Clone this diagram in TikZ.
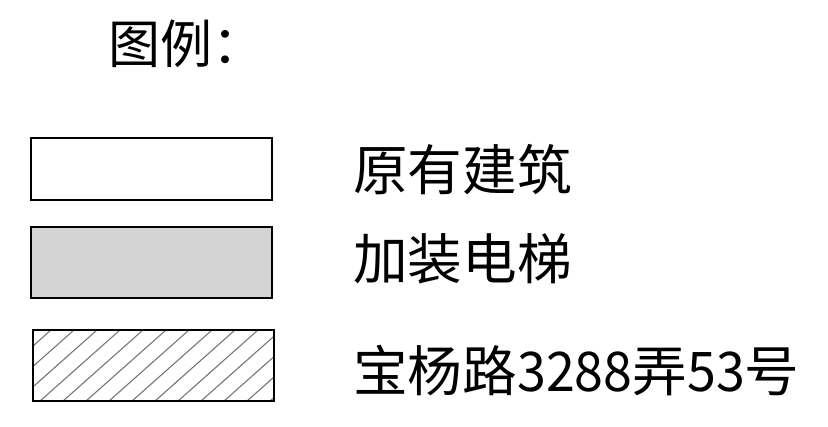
\documentclass[tikz,border=0pt]{standalone}
\usepackage{fontspec}
\setmainfont{Noto Sans CJK SC}
\newfontfamily\digitfont[FakeStretch=0.95]{Noto Sans CJK SC}
\begin{document}
\begin{tikzpicture}[x=0.75pt,y=-0.75pt,
  legbox/.style={draw=black,line width=1.6pt},
  lbl/.style={anchor=base west,inner sep=0pt,font=\fontsize{41pt}{41pt}\selectfont},
  hatchline/.style={draw=black!55,line width=0.8pt}]
\useasboundingbox (0,0) rectangle (828,426);
\node[anchor=base west,inner sep=0pt,font=\fontsize{39pt}{39pt}\selectfont] (title) at (108,63) {图例：};
% box 1
\draw[legbox,fill=white] (31,138) rectangle (272,200);
% box 2
\draw[legbox,fill=black!17] (31,227) rectangle (272,298);
% box 3
\begin{scope}
\clip (33,330) rectangle (274,401);
\foreach \x in {-52,-29,...,280}{
  \draw[hatchline] (\x,401) -- ({\x+80},330);
}
\end{scope}
\draw[legbox] (33,330) rectangle (274,401);
\node[lbl] (l1) at (353,190) {原有建筑};
\node[lbl] (l2) at (353,279) {加装电梯};
\node[lbl] (l3) at (353,391) {宝杨路{\digitfont 3288}弄{\digitfont 53}号};
\end{tikzpicture}
\end{document}
